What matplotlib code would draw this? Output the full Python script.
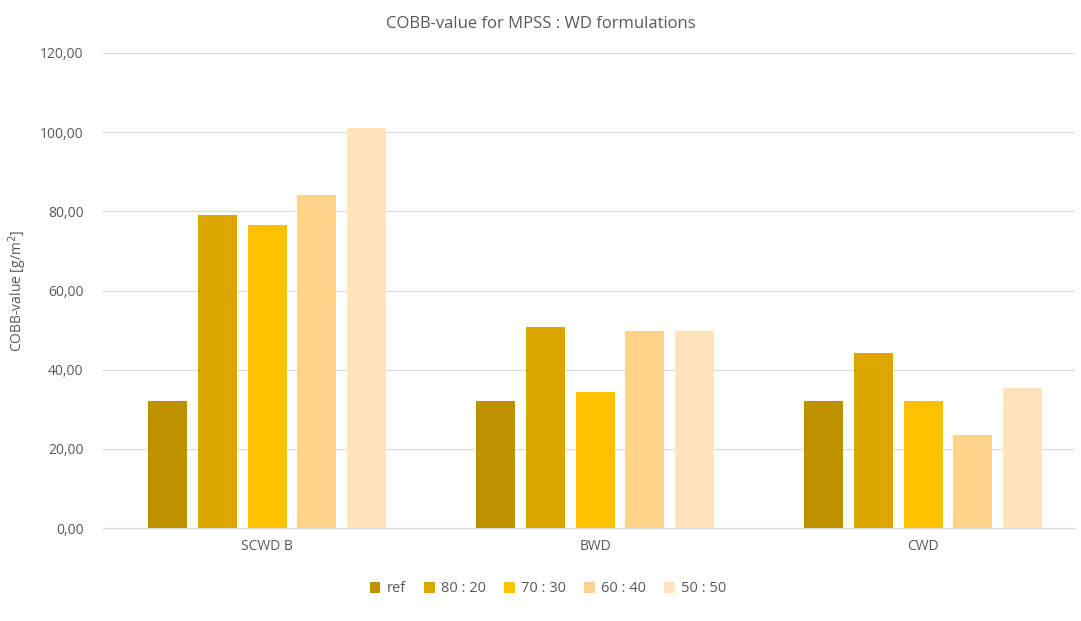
import numpy as np
import matplotlib.pyplot as plt

plt.rcParams['font.family'] = ['Open Sans', 'DejaVu Sans']

categories = ['SCWD B', 'BWD', 'CWD']
series = ['ref', '80 : 20', '70 : 30', '60 : 40', '50 : 50']
values = {
    'ref':     [32.1, 32.1, 32.1],
    '80 : 20': [79.1, 50.8, 44.2],
    '70 : 30': [76.6, 34.4, 32.1],
    '60 : 40': [84.1, 49.8, 23.5],
    '50 : 50': [101.0, 49.8, 35.4],
}
colors = ['#BF9000', '#DDA500', '#FFC000', '#FFD38A', '#FFE3BC']
yticks = [0, 20, 40, 60, 80, 100, 120]

fig = plt.figure(figsize=(10.81, 6.21), dpi=100)
ax = fig.add_axes([103/1081, 1 - 528/621, (1075-103)/1081, (528-53)/621])

x = np.arange(len(categories))
w = 0.119
step = 0.152
for i, s in enumerate(series):
    ax.bar(x + (i - 2) * step, values[s], width=w, color=colors[i], label=s, zorder=3)

ax.set_xlim(-0.5, 2.463)
ax.set_ylim(0, 120)
ax.set_yticks(yticks)
ax.set_yticklabels([f'{v:.2f}'.replace('.', ',') for v in yticks])
ax.set_xticks(x)
ax.set_xticklabels(categories)
ax.grid(axis='y', color='#D9D9D9', linewidth=0.8, zorder=0)
for sp in ['top', 'right', 'left']:
    ax.spines[sp].set_visible(False)
ax.spines['bottom'].set_color('#D9D9D9')
ax.tick_params(axis='both', length=0, colors='#595959', labelsize=10)
ax.tick_params(axis='y', pad=14)
ax.tick_params(axis='x', pad=8)
ax.set_ylabel('COBB-value [g/m$^2$]', color='#595959', fontsize=10, labelpad=8)

fig.suptitle('COBB-value for MPSS : WD formulations', y=0.975, fontsize=12, color='#595959')
leg = fig.legend(loc='center', bbox_to_anchor=(548/1081, 1 - 589/621), ncol=5, frameon=False,
                 fontsize=10.5, handlelength=0.7, handleheight=0.7, handletextpad=0.4, columnspacing=1.3)
for t in leg.get_texts():
    t.set_color('#595959')

fig.savefig('out.png', dpi=100)
